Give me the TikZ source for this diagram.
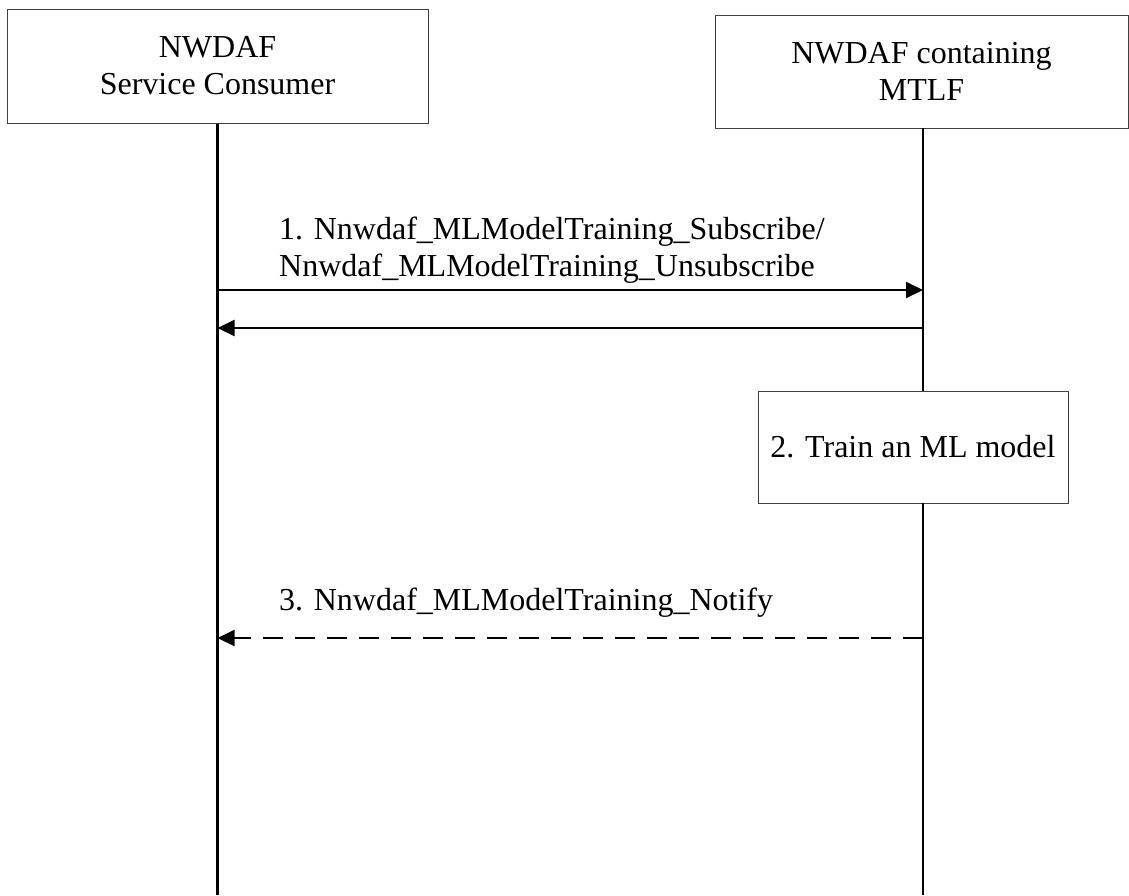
\documentclass[tikz,border=0pt]{standalone}
\usepackage{fontspec}
\setmainfont{Liberation Serif}
\usetikzlibrary{arrows.meta}
\begin{document}
\begin{tikzpicture}[x=1pt,y=-1pt,
  every node/.style={font=\fontsize{32}{37}\selectfont},
  actor/.style={draw=black!75, line width=1pt, fill=white, align=center, inner sep=0pt},
  life/.style={line width=2.5pt},
  msg/.style={line width=2pt, -{Triangle[length=17pt,width=16pt]}},
  ret/.style={msg, dash pattern=on 20pt off 12pt},
  lbl/.style={anchor=base west, align=left, inner sep=0pt}]
\useasboundingbox (0,0) rectangle (1129,895);
\fill[white] (0,0) rectangle (1129,895);
% actors
\node[actor, minimum width=421pt, minimum height=114pt] (cons) at (217.5,66) {NWDAF\\Service Consumer};
\node[actor, minimum width=413pt, minimum height=113pt] (mtlf) at (921.5,71.5) {NWDAF containing\\MTLF};
\node[actor, minimum width=310pt, minimum height=112pt] (train) at (913,447) {2. Train an ML model};
% lifeline anchors
\coordinate (cend) at (217.5,895);
\coordinate (mtop) at (923,391);
\coordinate (mbot) at (923,503);
\coordinate (mend) at (923,895);
\coordinate (mstart) at (923,128);
\draw[life] (cons.south) -- (cend);
\draw[life] (mstart) -- (mtop);
\draw[life] (mbot) -- (mend);
% messages
\coordinate (c1) at (217.5,290); \coordinate (m1) at (923,290);
\coordinate (c2) at (217.5,328); \coordinate (m2) at (923,328);
\coordinate (c3) at (217.5,638); \coordinate (m3) at (923,638);
\draw[msg] (c1) -- (m1);
\draw[msg] (m2) -- (c2);
\draw[ret] (m3) -- (c3);
\node[lbl] (l1) at (279,276) {1. Nnwdaf\_MLModelTraining\_Subscribe/\\Nnwdaf\_MLModelTraining\_Unsubscribe};
\node[lbl] (l3) at (279,610) {3. Nnwdaf\_MLModelTraining\_Notify};
\end{tikzpicture}
\end{document}
